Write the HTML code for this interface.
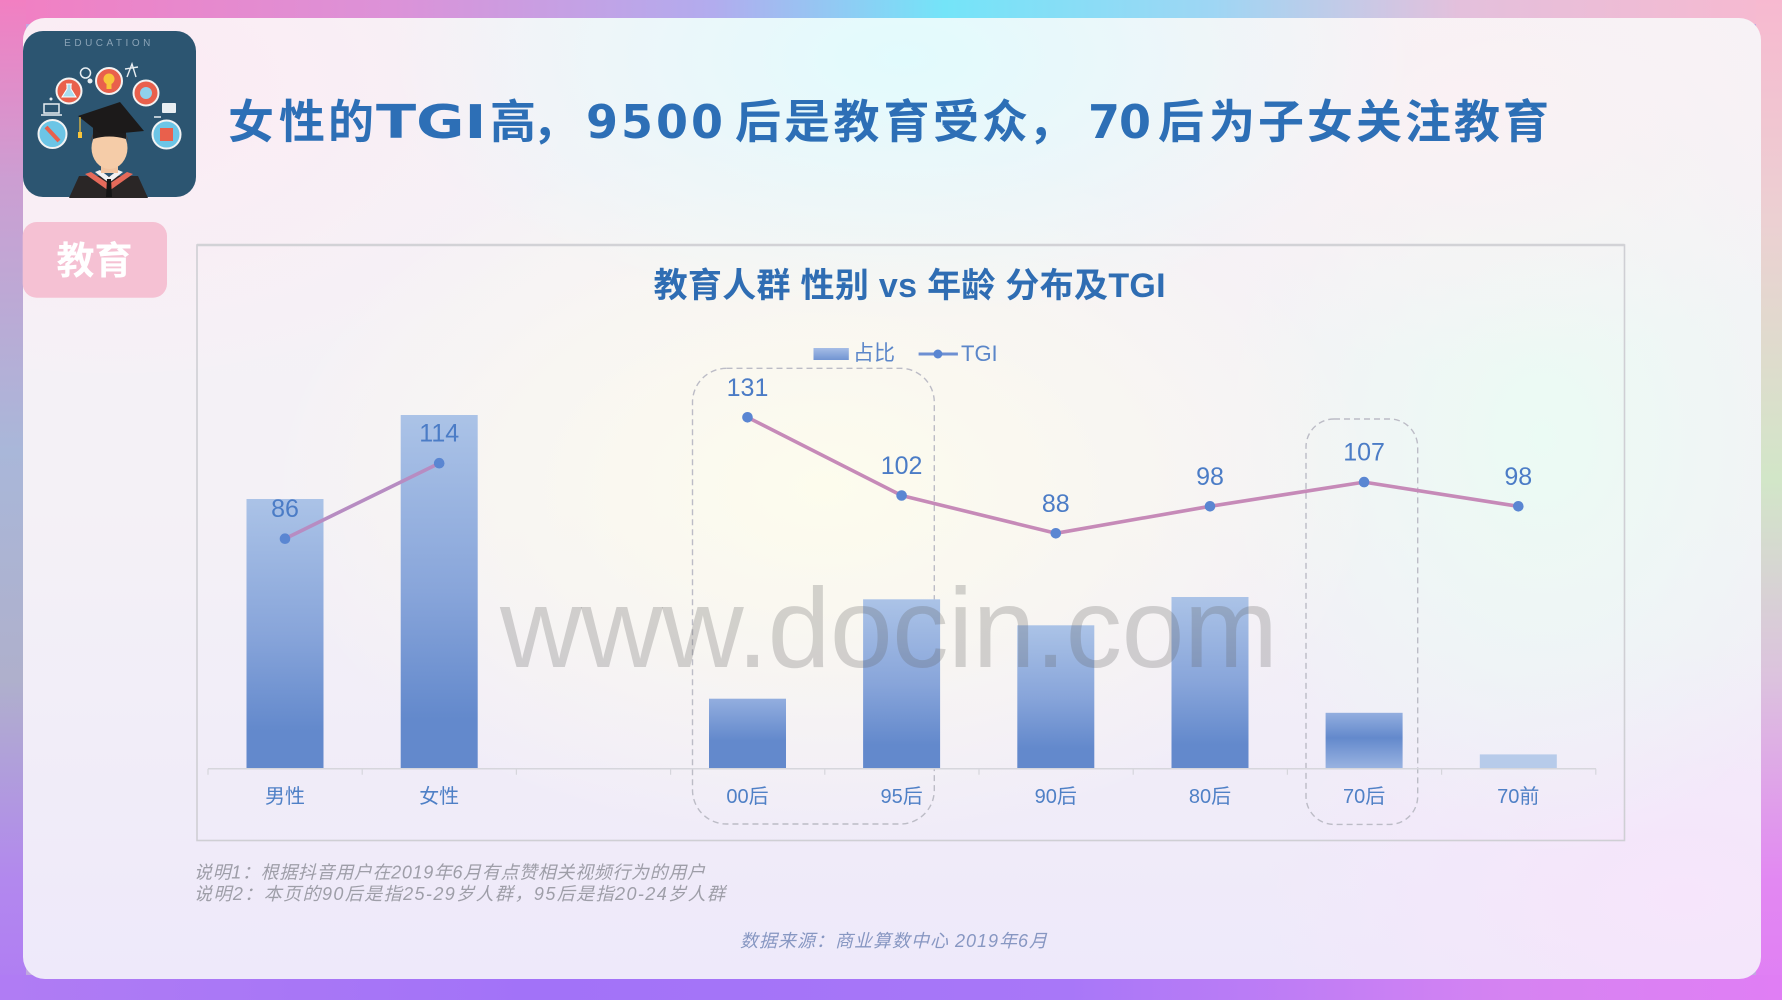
<!DOCTYPE html>
<html><head><meta charset="utf-8"><style>
html,body{margin:0;padding:0;width:1782px;height:1000px;overflow:hidden;background:#c0a8e0;}
.s{position:absolute;}
#card{position:absolute;left:23px;top:18px;width:1738px;height:961px;border-radius:22px;
background:
radial-gradient(ellipse 520px 260px at 880px 40px,#e2fbfd 0%,rgba(226,251,253,0) 100%),
radial-gradient(ellipse 480px 300px at 90px 70px,#fcebf4 0%,rgba(252,235,244,0) 100%),
radial-gradient(ellipse 420px 260px at 1450px 90px,#faf1f4 0%,rgba(250,241,244,0) 100%),
radial-gradient(ellipse 560px 360px at 800px 470px,#fdfced 0%,rgba(253,252,237,0) 100%),
radial-gradient(ellipse 320px 420px at 1520px 420px,#ebfbf4 0%,rgba(235,251,244,0) 100%),
radial-gradient(ellipse 420px 260px at 1660px 880px,#f6e5fb 0%,rgba(246,229,251,0) 100%),
linear-gradient(to bottom,#f6f2f6 0%,#f4f1f6 50%,#eee9fa 100%);}
svg{position:absolute;left:0;top:0;}
</style></head><body>
<div class="s" style="left:0;top:0;width:1782px;height:24px;background:linear-gradient(to right,#f27fc2 0%,#dc92d8 22%,#b2acee 40%,#74e4f8 53%,#9ed6f4 68%,#e4c0dc 82%,#f7b9d0 100%);"></div>
<div class="s" style="left:0;top:0;width:26px;height:1000px;background:linear-gradient(to bottom,#f27fc2 0%,#cc9ed2 18%,#a9b7d9 45%,#afb0cc 68%,#b288ee 88%,#b07cf4 100%);"></div>
<div class="s" style="left:1756px;top:0;width:26px;height:1000px;background:linear-gradient(to bottom,#f7b9d0 0%,#ecd0d2 22%,#d2e6c8 48%,#dcc2de 68%,#e288f2 88%,#e07ef4 100%);"></div>
<div class="s" style="left:0;top:975px;width:1782px;height:25px;background:linear-gradient(to right,#b07cf4 0%,#a272f8 30%,#a877f8 60%,#d683f2 85%,#e07ef4 100%);"></div>
<div id="card"></div>
<svg width="1782" height="1000" viewBox="0 0 1782 1000" xmlns="http://www.w3.org/2000/svg">
<defs>
<linearGradient id="gb" x1="0" y1="0" x2="0" y2="1">
<stop offset="0" stop-color="#abc3e7"/><stop offset="0.5" stop-color="#88a5da"/><stop offset="0.86" stop-color="#6389cc"/><stop offset="1" stop-color="#6389cc"/>
</linearGradient>
<linearGradient id="gs" x1="0" y1="0" x2="0" y2="1">
<stop offset="0" stop-color="#93aedf"/><stop offset="0.6" stop-color="#6389cc"/><stop offset="1" stop-color="#6389cc"/>
</linearGradient>
<linearGradient id="g70" x1="0" y1="0" x2="0" y2="1">
<stop offset="0" stop-color="#93aedf"/><stop offset="0.45" stop-color="#6389cc"/><stop offset="1" stop-color="#9ab3e1"/>
</linearGradient>
<linearGradient id="gl" x1="0" y1="0" x2="0" y2="1">
<stop offset="0" stop-color="#a6bde6"/><stop offset="1" stop-color="#7194d2"/>
</linearGradient>
</defs>

<!-- icon -->
<g transform="translate(23,31)">
<rect width="173" height="166" rx="20" fill="#2c5571"/>
<text x="86" y="15" font-family="Liberation Sans" font-size="10" fill="#8aa3b6" text-anchor="middle" letter-spacing="3.5">EDUCATION</text>
<circle cx="46" cy="60" r="12.5" fill="#e9604c" stroke="#f3f3f3" stroke-width="2"/>
<path d="M43 53 h6 M44 53 v5 l-5 8 h14 l-5 -8 v-5" fill="#a9dcef" stroke="#fff" stroke-width="1"/>
<circle cx="86" cy="50" r="13" fill="#e9604c" stroke="#f3f3f3" stroke-width="2"/>
<circle cx="86" cy="48" r="5.5" fill="#f8c53a"/><rect x="83.5" y="52" width="5" height="6" fill="#f8c53a"/>
<circle cx="123" cy="62" r="12.5" fill="#e9604c" stroke="#f3f3f3" stroke-width="2"/>
<circle cx="123" cy="62" r="6" fill="#8fd1ec"/>
<circle cx="29.5" cy="103" r="14" fill="#6cc5e6" stroke="#f3f3f3" stroke-width="2"/>
<path d="M23 96 L36 110" stroke="#e9604c" stroke-width="4"/>
<circle cx="143.5" cy="103.5" r="14" fill="#6cc5e6" stroke="#f3f3f3" stroke-width="2"/>
<rect x="137" y="97" width="13" height="13" fill="#e9604c"/>
<circle cx="62.5" cy="42" r="5" fill="none" stroke="#e8eef2" stroke-width="1.5"/>
<circle cx="67" cy="50" r="2.5" fill="#e8eef2"/>
<path d="M104 46 L109 33 L113 46 M102 38 L115 36" stroke="#e8eef2" stroke-width="1.4" fill="none"/>
<rect x="21" y="73" width="15" height="9" fill="none" stroke="#e8eef2" stroke-width="1.5"/>
<path d="M18 84 h21" stroke="#e8eef2" stroke-width="1.5"/>
<circle cx="28" cy="68" r="1.5" fill="#e8eef2"/>
<rect x="139" y="72" width="14" height="10" rx="1" fill="#e8eef2"/>
<path d="M131 86 h7" stroke="#e8eef2" stroke-width="1.5"/>
<!-- body -->
<path d="M56 145 L115 145 L125 167 L46 167 Z" fill="#2a2626"/>
<path d="M62 143 L86 160 L110 143 L104 141 L86 153 L68 141 Z" fill="#e56a5a"/>
<path d="M72 141 L86 152 L100 141 L95 139 L86 146 L77 139 Z" fill="#f2f2f2"/>
<path d="M84 148 L88 148 L89 166 L83 166 Z" fill="#151515"/>
<rect x="78" y="128" width="17" height="14" fill="#f1c4a0"/>
<ellipse cx="86.5" cy="117" rx="18" ry="21" fill="#f5cca8"/>
<path d="M68 112 Q68 96 86 95 Q105 96 105 112 L103 104 Q86 100 70 104 Z" fill="#5a3828"/>
<!-- cap -->
<path d="M70 97 L103 97 L103 108 Q86 103 70 108 Z" fill="#1e1c1c"/>
<path d="M55 85 L97 71 L121 100 L79 104 Z" fill="#1c1a1a"/>
<path d="M57 86 L57 103" stroke="#f8c53a" stroke-width="1.2"/>
<rect x="55" y="101" width="4" height="6" fill="#f8c53a"/>
</g>

<!-- tag -->
<rect x="22.7" y="222" width="144.3" height="75.7" rx="14" fill="#f5c1d3"/>
<text x="94.5" y="274" text-anchor="middle" font-family="Liberation Sans,'Noto Sans CJK SC',sans-serif" font-size="38" font-weight="bold" fill="#ffffff">教育</text>

<!-- main title -->
<g font-size="46" font-weight="bold" fill="#2d6fb6" font-family="'DejaVu Sans','Noto Sans CJK SC',sans-serif">
<text y="138" x="228 279 328">女性的</text>
<text transform="translate(376,138) scale(1.28,1)" x="0" y="0">TGI</text>
<text y="138" x="490 532 586 621 656 691 735 784 833.5 883.5 933 982 1028 1088 1119 1158 1209 1258 1307 1356 1405 1454 1503">高，9500后是教育受众，70后为子女关注教育</text>
</g>

<!-- chart frame -->
<rect x="197" y="245" width="1427.5" height="595.5" fill="none" stroke="#cfcfd4" stroke-width="1.6"/>
<line x1="197" y1="245" x2="1624.5" y2="245" stroke="#d2d2d6" stroke-width="2.4"/>

<text x="909.6" y="297" text-anchor="middle" textLength="512" lengthAdjust="spacing" font-size="34" font-weight="bold" fill="#2f6db3" font-family="'Liberation Sans','Noto Sans CJK SC',sans-serif">教育人群 性别 vs 年龄 分布及TGI</text>

<!-- legend -->
<rect x="813.5" y="348" width="35.3" height="12" fill="url(#gl)"/>
<text x="853" y="360" font-size="21" fill="#5b86c9" font-family="'Liberation Sans','Noto Sans CJK SC',sans-serif">占比</text>
<line x1="918.6" y1="354" x2="957.9" y2="354" stroke="#6d8fd2" stroke-width="3"/>
<circle cx="937.9" cy="354" r="4.5" fill="#5a86d2"/>
<text x="961" y="361" font-size="22" fill="#5b86c9" font-family="'Liberation Sans',sans-serif">TGI</text>

<!-- dashed boxes -->
<rect x="692.5" y="368.3" width="241.8" height="455.7" rx="34" fill="none" stroke="#bcbcc6" stroke-width="1.4" stroke-dasharray="6 4"/>
<rect x="1306" y="419" width="111.7" height="405.4" rx="28" fill="none" stroke="#bcbcc6" stroke-width="1.4" stroke-dasharray="6 4"/>

<!-- bars -->
<rect x="246.5" y="499" width="77" height="269.5" fill="url(#gb)"/>
<rect x="400.7" y="415" width="77" height="353.5" fill="url(#gb)"/>
<rect x="709" y="698.7" width="77" height="69.8" fill="url(#gs)"/>
<rect x="863.1" y="599.3" width="77" height="169.2" fill="url(#gb)"/>
<rect x="1017.3" y="625.3" width="77" height="143.2" fill="url(#gb)"/>
<rect x="1171.5" y="597" width="77" height="171.5" fill="url(#gb)"/>
<rect x="1325.6" y="712.8" width="77" height="55.7" fill="url(#g70)"/>
<rect x="1479.8" y="754.4" width="77" height="14.1" fill="#b7cbea"/>

<!-- axis -->
<line x1="208" y1="768.8" x2="1596" y2="768.8" stroke="#d6d6dc" stroke-width="1.5"/>
<path d="M208 768.8v6 M362.2 768.8v6 M516.4 768.8v6 M670.6 768.8v6 M824.8 768.8v6 M979 768.8v6 M1133.2 768.8v6 M1287.4 768.8v6 M1441.6 768.8v6 M1595.8 768.8v6" stroke="#d6d6dc" stroke-width="1.2"/>

<!-- watermark -->
<text x="500" y="667" font-size="113" textLength="778" lengthAdjust="spacing" fill="rgba(95,95,95,0.26)" font-family="'Liberation Sans',sans-serif">www.docin.com</text>

<!-- TGI lines -->
<polyline points="285,538.7 439.2,463.2" fill="none" stroke="#b78cc2" stroke-width="3.6"/>
<polyline points="747.5,417.3 901.6,495.5 1055.8,533.3 1210,506.3 1364.1,482.1 1518.3,506.3" fill="none" stroke="#c68ab8" stroke-width="3.6" stroke-linejoin="round"/>
<g fill="#5a86d2">
<circle cx="285" cy="538.7" r="5.3"/><circle cx="439.2" cy="463.2" r="5.3"/>
<circle cx="747.5" cy="417.3" r="5.3"/><circle cx="901.6" cy="495.5" r="5.3"/>
<circle cx="1055.8" cy="533.3" r="5.3"/><circle cx="1210" cy="506.3" r="5.3"/>
<circle cx="1364.1" cy="482.1" r="5.3"/><circle cx="1518.3" cy="506.3" r="5.3"/>
</g>
<g font-family="'Liberation Sans',sans-serif" font-size="25" fill="#4b7cc6" text-anchor="middle">
<text x="285" y="517">86</text><text x="439.2" y="441.7">114</text>
<text x="747.5" y="395.8">131</text><text x="901.6" y="474">102</text>
<text x="1055.8" y="511.8">88</text><text x="1210" y="484.8">98</text>
<text x="1364.1" y="460.6">107</text><text x="1518.3" y="484.8">98</text>
</g>

<!-- category labels -->
<g font-family="'Liberation Sans','Noto Sans CJK SC',sans-serif" font-size="20" fill="#4f80c6" text-anchor="middle">
<text x="285" y="803">男性</text><text x="439.2" y="803">女性</text>
<text x="747.5" y="803">00后</text><text x="901.6" y="803">95后</text>
<text x="1055.8" y="803">90后</text><text x="1210" y="803">80后</text>
<text x="1364.1" y="803">70后</text><text x="1518.3" y="803">70前</text>
</g>

<!-- notes -->
<g font-family="'Liberation Sans','Noto Sans CJK SC',sans-serif" font-size="18" font-style="italic">
<text x="194" y="878.5" textLength="511" lengthAdjust="spacing" fill="#9e9ea8">说明1：根据抖音用户在2019年6月有点赞相关视频行为的用户</text>
<text x="194" y="900" textLength="531" lengthAdjust="spacing" fill="#9e9ea8">说明2：本页的90后是指25-29岁人群，95后是指20-24岁人群</text>
<text x="740" y="947" textLength="307" lengthAdjust="spacing" fill="#8797c2">数据来源：商业算数中心 2019年6月</text>
</g>
</svg>
</body></html>
